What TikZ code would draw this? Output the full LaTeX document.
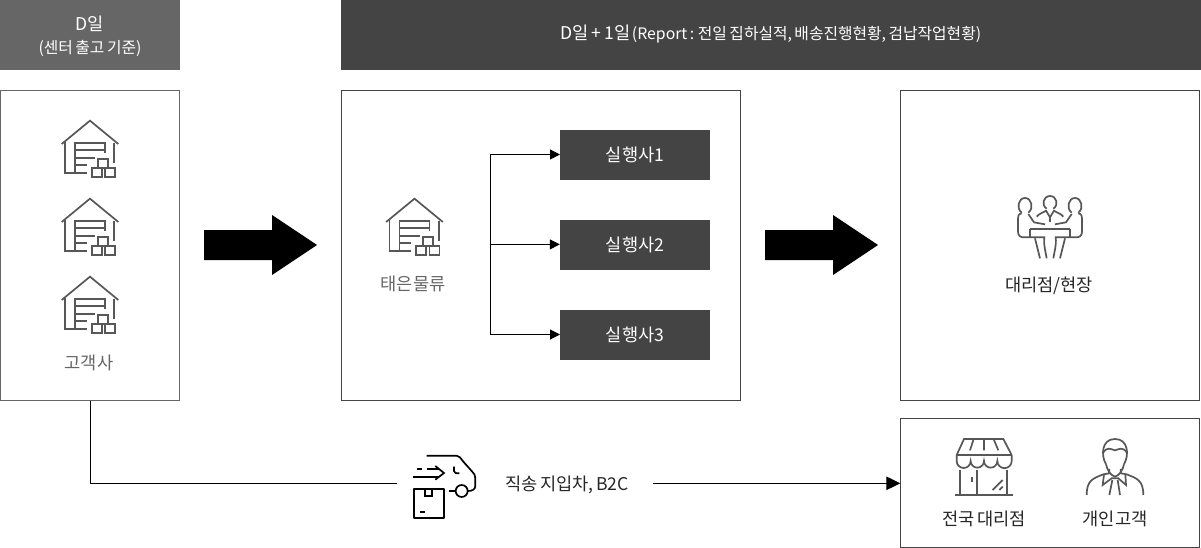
\documentclass[tikz,border=0pt]{standalone}
\usepackage{fontspec}
\setmainfont[WordSpace=0.7]{Noto Sans CJK KR}
\usetikzlibrary{arrows.meta,calc,positioning,fadings}
\definecolor{txt}{HTML}{666666}
\definecolor{dark}{HTML}{444444}
\definecolor{mid}{HTML}{666666}
\tikzset{
  panel/.style={draw=#1,line width=1pt,fill=white,inner sep=0pt,anchor=north west},
  panel/.default={dark},
  execbox/.style={fill=dark,text=white,minimum width=150pt,minimum height=50pt,inner sep=0pt,font=\fontsize{17.6}{20}\selectfont},
  label/.style={text=txt,inner sep=0pt,font=\fontsize{17.6}{20}\selectfont},
  labeldark/.style={text=black!85,inner sep=0pt,font=\fontsize{17.6}{20}\selectfont},
  icon/.style={draw=#1,line width=1.7pt,line join=miter,x=0.3333pt,y=-0.3333pt},
  icon/.default={dark!90},
  link/.style={draw=black,line width=1pt},
  linkarrow/.style={link,-{Triangle[length=10pt,width=10pt]}},
  bigarrow/.style={fill=black,draw=none},
  pics/warehouse/.style={code={
    \begin{scope}[icon={#1}]
      \draw (65,132) -- (150,62) -- (235,132);
      \draw (75,125) -- (75,218) -- (140,218);
      \draw (105,218) -- (105,128) -- (195,128) -- (195,160);
      \draw (105,150) -- (195,150);
      \draw (105,173) -- (165,173);
      \draw (105,196) -- (140,196);
      \draw (223,128) -- (223,188);
      \draw (155,204) rectangle (185,232);
      \draw (195,204) rectangle (225,232);
      \draw (175,176) rectangle (205,204);
    \end{scope}
  }},
  pics/warehouse/.default={dark!90}
}
\begin{document}
\begin{tikzpicture}[x=1pt,y=-1pt]
\useasboundingbox (0,0) rectangle (1201,548);
% headers
\node[fill=mid,minimum width=180pt,minimum height=69.6pt,inner sep=0pt,anchor=north west] (hd) at (0,0) {};
\node[fill=dark,minimum width=860pt,minimum height=69.6pt,inner sep=0pt,anchor=north west] (hn) at (341,0) {};
\node[text=white,inner sep=0pt,font=\fontsize{17.6}{20}\selectfont] (hdt) at (90,24) {D일};
\node[text=white,inner sep=0pt,font=\fontsize{15.8}{18}\selectfont] (hds) at (90,48) {(센터 출고 기준)};
\node[text=white,inner sep=0pt] (hnt) at (771,34) {{\fontsize{17.6}{20}\selectfont D일 + 1일} {\fontsize{15.8}{18}\selectfont (Report : 전일 집하실적, 배송진행현황, 검납작업현황)}};
% panels
\node[panel=mid,minimum width=179pt,minimum height=309pt] (cust) at (0,90.5) {};
\node[panel,minimum width=399pt,minimum height=309pt] (midp) at (341,90.5) {};
\node[panel,minimum width=299pt,minimum height=309pt] (dealer) at (900,90.5) {};
\node[panel,minimum width=299pt,minimum height=129pt] (store) at (900.3,418) {};
% warehouses
\pic at (40,100) {warehouse};
\pic at (40,178) {warehouse};
\pic at (40,256) {warehouse};
\pic at (364.5,178) {warehouse};
\node[label] (custl) at (89,363) {고객사};
\node[label] (tl) at (413,284) {태은물류};
% exec boxes
\node[execbox] (e1) at (635,155) {실행사1};
\node[execbox] (e2) at (635,245) {실행사2};
\node[execbox] (e3) at (635,335) {실행사3};
\coordinate (j) at (490.7,244.4);
\coordinate (t1) at (560,154.5);
\coordinate (t3) at (560,334.5);
\draw[linkarrow] (j) |- (t1);
\draw[linkarrow] (j) -- (e2.west |- j);
\draw[linkarrow] (j) |- (t3);
% big arrows
\fill[bigarrow] (204,230) -- (272,230) -- (272,215) -- (317,245) -- (272,275) -- (272,260) -- (204,260) -- cycle;
\fill[bigarrow] (765,230) -- (833,230) -- (833,215) -- (878,245) -- (833,275) -- (833,260) -- (765,260) -- cycle;
% meeting icon
\begin{scope}[shift={(1000,180)},icon]
  \draw (65,98) .. controls (48,85) and (55,54) .. (75,54) .. controls (95,54) and (102,85) .. (85,98);
  \draw (140,86) .. controls (123,75) and (130,48) .. (150,48) .. controls (170,48) and (177,75) .. (160,86);
  \draw (215,98) .. controls (198,85) and (205,54) .. (225,54) .. controls (245,54) and (252,85) .. (235,98);
  \draw (110,110) .. controls (118,100) and (130,98) .. (138,92) -- (150,112) -- (162,92) .. controls (170,98) and (182,100) .. (190,110);
  \draw (150,112) -- (150,125);
  \draw (65,100) .. controls (55,102) and (54,108) .. (54,115) -- (54,155) .. controls (54,168) and (62,172) .. (72,172) -- (133,172) .. controls (130,195) and (137,215) .. (140,235);
  \draw (85,102) -- (102,127) -- (135,133);
  \draw (235,100) .. controls (245,102) and (246,108) .. (246,115) -- (246,155) .. controls (246,168) and (238,172) .. (228,172) -- (167,172) .. controls (170,195) and (163,215) .. (160,235);
  \draw (215,102) -- (198,127) -- (165,133);
  \draw (90,147) -- (210,147);
  \draw (90,147) -- (90,170) (210,147) -- (210,170);
  \draw (105,175) -- (120,235);
  \draw (195,175) -- (180,235);
\end{scope}
\node[labeldark] (dl) at (1049,286) {대리점/현장};
% bottom route
\coordinate (r1) at (397,483.3);
\coordinate (r2) at (653,483.3);
\draw[link] (cust.south -| 90,0) |- (r1);
\draw[link,-{Triangle[length=14pt,width=13.5pt]}] (r2) -- (store.west |- r2);
\node[labeldark] (rl) at (567,485) {직송 지입차, B2C};
% truck icon
\begin{scope}[shift={(400,445)},icon=black]
  \draw (80,32) -- (170,32) .. controls (178,32) and (182,40) .. (190,50) -- (215,78) .. controls (224,88) and (226,92) .. (226,100) -- (226,122) .. controls (226,134) and (216,138) .. (204,138);
  \draw (162,65) -- (162,78) .. controls (162,84) and (168,85) .. (178,85);
  \draw (185,138) circle[radius=18];
  \draw (148,138) -- (167,138);
  \draw (50,72) -- (66,72) (80,72) -- (118,72);
  \draw (40,97) -- (118,97);
  \draw (106,63) -- (132,84) -- (106,104);
  \draw[line join=round] (42,133) rectangle (132,218);
  \draw (75,133) -- (75,152) -- (97,152) -- (97,133);
  \draw (59,200) -- (74,200);
\end{scope}
% store icon
\begin{scope}[shift={(940,425)},icon]
  \draw (50,90) -- (72,42) -- (190,42) -- (215,90);
  \draw (50,90) -- (215,90);
  \draw (100,45) -- (90,76) (132,45) -- (132,76) (162,45) -- (175,76);
  \draw (50,90) -- (50,108) arc[start angle=180,end angle=0,radius=21] arc[start angle=180,end angle=0,radius=20] arc[start angle=180,end angle=0,radius=20] arc[start angle=180,end angle=0,radius=21.5] -- (215,90);
  \draw (60,135) -- (60,210) (112,135) -- (112,210) (202,135) -- (202,210);
  \draw (45,210) -- (218,210);
  \draw (96,155) -- (96,171);
  \draw (158,195) -- (188,165) (178,195) -- (188,185);
\end{scope}
\node[labeldark] (sl) at (984,518.5) {전국 대리점};
% person icon
\begin{scope}[shift={(1070,425)},icon]
  \draw (108,118) .. controls (92,90) and (95,42) .. (135,42) .. controls (175,42) and (178,90) .. (162,118);
  \draw (100,82) .. controls (112,65) and (122,72) .. (135,76) .. controls (148,72) and (158,65) .. (170,82);
  \draw (108,118) .. controls (112,135) and (120,150) .. (135,155) .. controls (150,150) and (158,135) .. (162,118);
  \draw (118,132) -- (118,145) -- (100,148) .. controls (70,160) and (50,165) .. (50,210);
  \draw (152,132) -- (152,145) -- (170,148) .. controls (200,160) and (220,165) .. (220,210);
  \draw (102,148) -- (98,180) -- (125,160) -- (145,160) -- (168,180) -- (166,148);
  \draw (127,165) -- (118,210) (143,165) -- (150,210);
\end{scope}
\node[labeldark] (pl) at (1115,518.5) {개인고객};
\end{tikzpicture}
\end{document}
